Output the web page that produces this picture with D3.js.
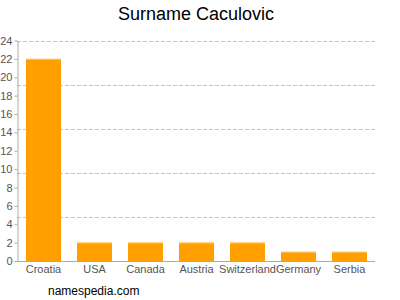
<!DOCTYPE html>
<html><head><meta charset="utf-8">
<script src="https://cdn.jsdelivr.net/npm/d3@7"></script>
<style>body{margin:0;background:#fff}svg{display:block}</style>
</head><body><svg id="c" width="400" height="300"></svg>
<script>
const categories = ["Croatia","USA","Canada","Austria","Switzerland","Germany","Serbia"];
const values = [22,2,2,2,2,1,1];
const yTicks = [0,2,4,6,8,10,12,14,16,18,20,22,24];
const gridValues = [4.8,9.6,14.4,19.2,24];
const title = "Surname Caculovic";
const footer = "namespedia.com";

const svg = d3.select("#c");
const font = "Liberation Sans, Arial, sans-serif";
const x = d3.scaleBand().domain(categories).range([18,375]).paddingInner(16/51).paddingOuter(8/51);
const y = d3.scaleLinear().domain([0,24]).range([261,40.5]);

svg.append("text").attr("x",196).attr("y",20).attr("text-anchor","middle")
  .attr("font-family",font).attr("font-size",18).attr("fill","#000").text(title);

svg.append("g").selectAll("line").data(gridValues).join("line")
  .attr("x1",17).attr("x2",375).attr("y1",d=>Math.round(y(d))+0.5).attr("y2",d=>Math.round(y(d))+0.5)
  .attr("stroke","#c4c4c4").attr("stroke-dasharray","4,2").attr("stroke-width",1);

const bars = svg.append("g");
bars.selectAll("rect").data(values).join("rect")
  .attr("x",(d,i)=>x(categories[i])).attr("width",x.bandwidth())
  .attr("y",d=>y(d)).attr("height",d=>y(0)-y(d)).attr("fill","#FFA000");
bars.selectAll("line").data(values).join("line")
  .attr("x1",(d,i)=>x(categories[i])).attr("x2",(d,i)=>x(categories[i])+x.bandwidth())
  .attr("y1",d=>y(d)+0.5).attr("y2",d=>y(d)+0.5).attr("stroke","#FFC25A").attr("stroke-width",1);

const yAxis = svg.append("g").attr("transform","translate(17.5,0)")
  .call(d3.axisLeft(y).tickValues(yTicks).tickSize(3).tickPadding(2).tickSizeOuter(0));
yAxis.select(".domain").attr("stroke","#aaa");
yAxis.selectAll(".tick line").attr("stroke","#aaa");
yAxis.selectAll("text").attr("font-family",font).attr("font-size",11).attr("fill","#555");

const xAxis = svg.append("g").attr("transform","translate(0,261.5)")
  .call(d3.axisBottom(x).tickSize(0).tickPadding(4).tickSizeOuter(0));
xAxis.select(".domain").attr("stroke","#aaa").attr("d","M17,0H375");
xAxis.selectAll("text").attr("font-family",font).attr("font-size",11).attr("fill","#555");

svg.append("text").attr("x",48).attr("y",295).attr("font-family",font).attr("font-size",12)
  .attr("fill","#000").text(footer);
</script></body></html>
